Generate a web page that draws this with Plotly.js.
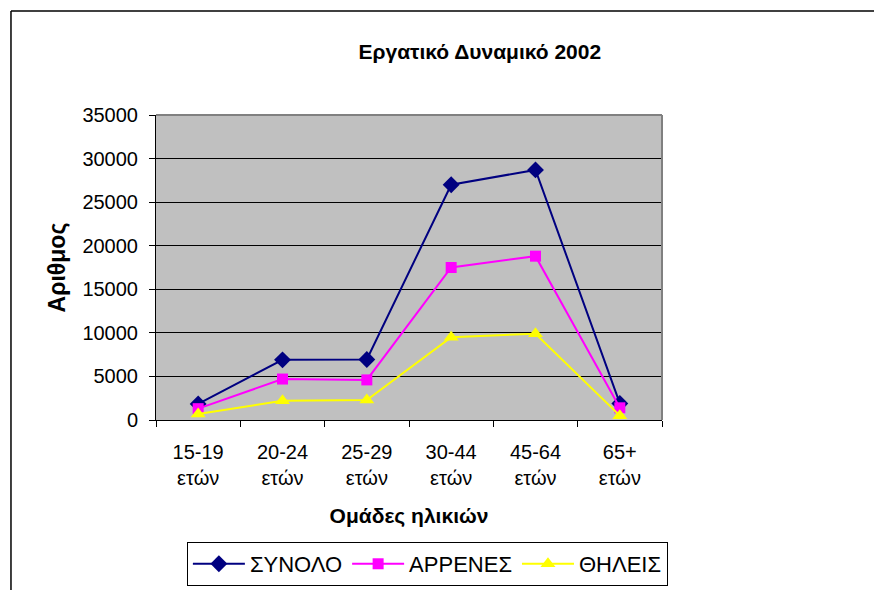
<!DOCTYPE html>
<html>
<head>
<meta charset="utf-8">
<script src="https://cdn.plot.ly/plotly-3.0.1.min.js"></script>
<style>body{margin:0;padding:0;background:#fff;}#chart{width:874px;height:590px;}</style>
</head>
<body>
<div id="chart"></div>
<script>
const categories = ["15-19<br>ετών", "20-24<br>ετών", "25-29<br>ετών", "30-44<br>ετών", "45-64<br>ετών", "65+<br>ετών"];
const synolo = [1850, 6900, 6950, 27000, 28700, 1900];
const arrenes = [1300, 4700, 4600, 17500, 18800, 1400];
const thileis = [700, 2200, 2300, 9500, 9900, 500];
const seriesNames = ["ΣΥΝΟΛΟ", "ΑΡΡΕΝΕΣ", "ΘΗΛΕΙΣ"];
const yTicks = [0, 5000, 10000, 15000, 20000, 25000, 30000, 35000];

const font = "Liberation Sans, Arial, sans-serif";
const traces = [
  {x: categories, y: synolo, name: seriesNames[0], type: "scatter", mode: "lines+markers",
   line: {color: "#000080", width: 2}, marker: {symbol: "diamond", size: 13, color: "#000080"}},
  {x: categories, y: arrenes, name: seriesNames[1], type: "scatter", mode: "lines+markers",
   line: {color: "#FF00FF", width: 2}, marker: {symbol: "square", size: 11, color: "#FF00FF"}},
  {x: categories, y: thileis, name: seriesNames[2], type: "scatter", mode: "lines+markers",
   line: {color: "#FFFF00", width: 2}, marker: {symbol: "triangle-up", size: 13, color: "#FFFF00"}}
];

const layout = {
  width: 874, height: 590,
  margin: {l: 156, r: 212, t: 115, b: 170},
  paper_bgcolor: "#FFFFFF",
  plot_bgcolor: "#C0C0C0",
  font: {family: font, color: "#000", size: 20},
  title: {text: "<b>Εργατικό Δυναμικό 2002</b>", font: {family: font, size: 21, color: "#000"},
          xref: "container", x: 0.549, xanchor: "center", yref: "container", y: 0.912, yanchor: "middle"},
  xaxis: {
    type: "category", tickson: "boundaries", ticks: "outside", ticklen: 6, tickcolor: "#000",
    showline: true, linecolor: "#000", linewidth: 1, showgrid: false, zeroline: false,
    automargin: false, ticklabelstandoff: 14,
    tickfont: {family: font, size: 20, color: "#000"},
    range: [-0.5, 5.5],
    title: {text: "<b>Ομάδες ηλικιών</b>", font: {family: font, size: 21, color: "#000"}, standoff: 20}
  },
  yaxis: {
    range: [0, 35000], tickvals: yTicks, ticktext: yTicks.map(String),
    ticks: "outside", ticklen: 6, tickcolor: "#000",
    showline: true, linecolor: "#000", linewidth: 1,
    showgrid: true, gridcolor: "#000", gridwidth: 1, zeroline: false,
    automargin: false, ticklabelstandoff: 7,
    tickfont: {family: font, size: 20, color: "#000"},
    title: {text: "<b>Αριθμος</b>", font: {family: font, size: 23, color: "#000"}, standoff: 10}
  },
  showlegend: true,
  legend: {orientation: "h", xref: "container", x: 0.489, xanchor: "center", yref: "container", y: 0.0814, yanchor: "top",
           bordercolor: "#000", borderwidth: 1, bgcolor: "#FFF",
           font: {family: font, size: 22, color: "#000"}, itemwidth: 52, tracegroupgap: 0},
  shapes: [
    {type: "line", xref: "paper", yref: "paper", x0: 0, x1: 1, y0: 1, y1: 1, line: {color: "#808080", width: 2}},
    {type: "line", xref: "paper", yref: "paper", x0: 1, x1: 1, y0: 0, y1: 1, line: {color: "#808080", width: 2}},
    {type: "line", xref: "paper", yref: "paper", x0: -0.2866, x1: 1.42, y0: 1.341, y1: 1.341, line: {color: "#000", width: 1.5}},
    {type: "line", xref: "paper", yref: "paper", x0: -0.2866, x1: -0.2866, y0: 1.341, y1: -0.56, line: {color: "#000", width: 1.5}}
  ]
};

Plotly.newPlot("chart", traces, layout, {displayModeBar: false, staticPlot: true});
</script>
</body>
</html>
